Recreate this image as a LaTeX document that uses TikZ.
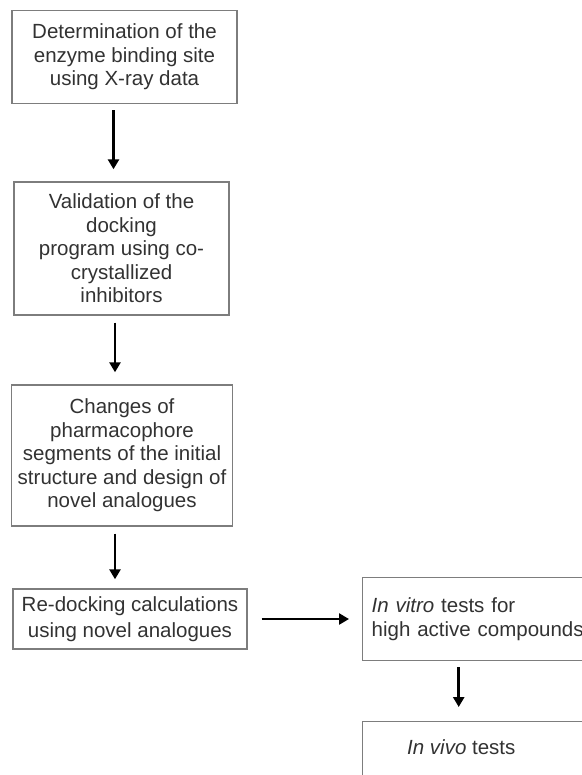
\documentclass[tikz,border=0pt]{standalone}
\usepackage{fontspec}
\setmainfont{Liberation Sans}
\usetikzlibrary{arrows.meta}

\definecolor{boxgray}{RGB}{125,125,125}
\definecolor{textgray}{RGB}{50,50,50}

\begin{document}
\begin{tikzpicture}[x=1pt, y=-1pt,
    box/.style = {draw=boxgray, line width=1.4pt, align=center, inner sep=6pt,
                  text=textgray, font=\fontsize{20.5}{23.5}\selectfont},
    flow/.style = {-{Triangle[width=11pt,length=10pt]}, line width=2.8pt, black}]
    \useasboundingbox (0,0) rectangle (581,775);

    % draw boxes
    \node[box, minimum width=225, minimum height=93] (site) at (124.5,57)
        {Determination of the\\enzyme binding site\\using X-ray data};
    \node[box, minimum width=215, minimum height=133] (valid) at (121.5,248.5)
        {Validation of the\\docking\\program using co-\\crystallized\\inhibitors};
    \node[box, minimum width=214, minimum height=141] (design) at (122,455.5)
        {Changes of\\pharmacophore\\segments of the initial\\structure and design of\\novel analogues};
    \node[box, minimum width=234, minimum height=60] (redock) at (130,619)
        {Re-docking calculations\\[2pt]using novel analogues};
    \node[box, anchor=north west, minimum width=240, minimum height=83,
          text width=222, align=left, inner sep=9pt] (vitro) at (362,577)
        {\textit{In vitro} tests for\\high active compounds};
    \node[box, anchor=north west, minimum width=240, minimum height=90] (vivo) at (362,721) {};
    \node[text=textgray, font=\fontsize{20.5}{23.5}\selectfont, anchor=west, inner sep=0pt]
        (vivotext) at ([xshift=45,yshift=-26]vivo.north west) {\textit{In vivo} tests};

    % draw arrows
    \draw[flow, shorten <=6pt, shorten >=12pt] ([xshift=-11]site.south) -- ([xshift=-11]site.south |- valid.north);
    \draw[flow, shorten <=7pt, shorten >=12pt] ([xshift=-6.5]valid.south) -- ([xshift=-6.5]valid.south |- design.north);
    \draw[flow, shorten <=7pt, shorten >=9pt] ([xshift=-7]design.south) -- ([xshift=-7]design.south |- redock.north);
    \draw[flow, shorten <=14pt, shorten >=13pt] (redock.east) -- (redock.east -| vitro.west);
    \draw[flow, shorten <=6pt, shorten >=14pt] ([xshift=-24]vitro.south) -- ([xshift=-24]vitro.south |- vivo.north);

\end{tikzpicture}
\end{document}
